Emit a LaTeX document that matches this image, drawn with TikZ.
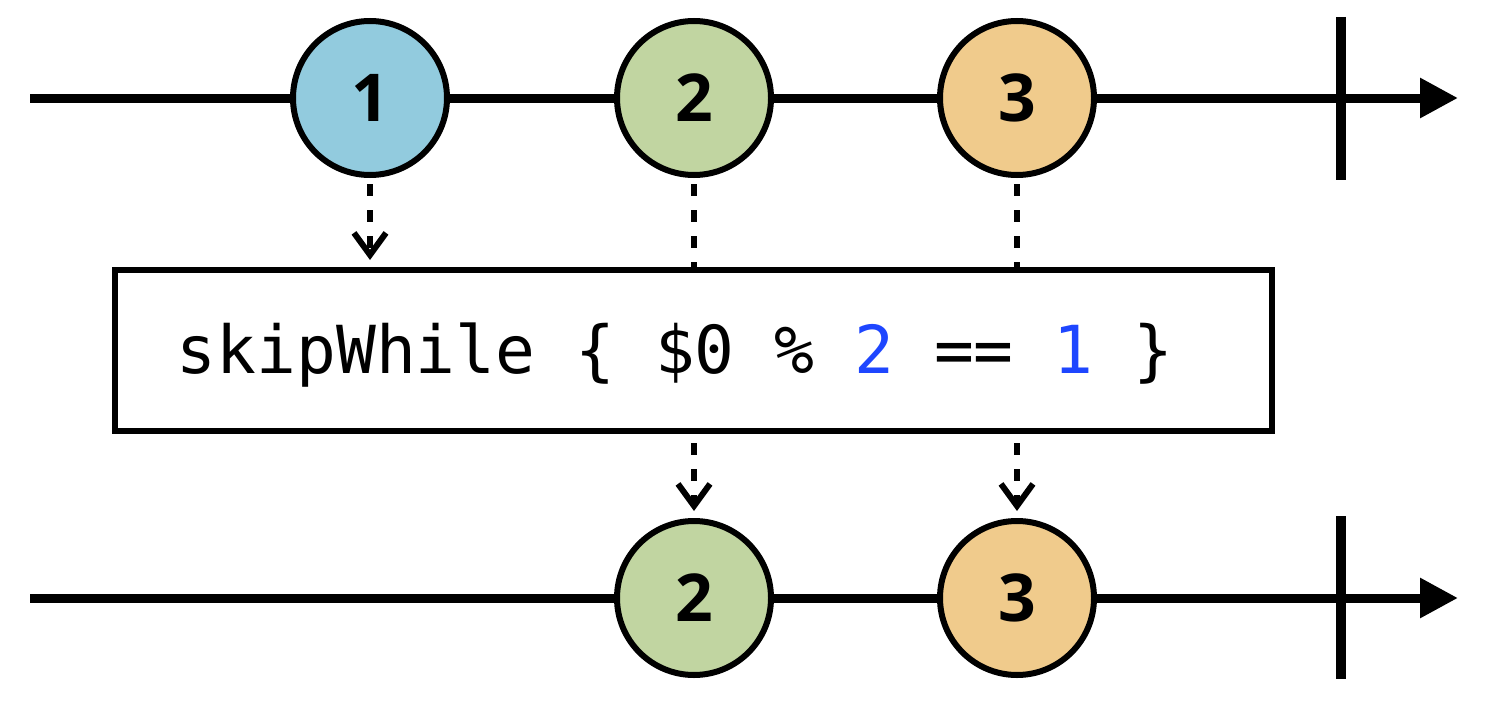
\documentclass[tikz,border=0pt]{standalone}
\usepackage{fontspec}
\newfontfamily\codefont{DejaVu Sans Mono}
\newfontfamily\digitfont{Open Sans}
\usetikzlibrary{arrows.meta}
\definecolor{mblue}{RGB}{146,203,222}
\definecolor{mgreen}{RGB}{193,213,161}
\definecolor{morange}{RGB}{240,203,140}
\definecolor{codeblue}{RGB}{30,70,255}
\begin{document}
\begin{tikzpicture}[x=1pt,y=-1pt,
  timeline/.style={line width=9pt, -{Triangle[length=38pt,width=38pt]}},
  endtick/.style={line width=10pt},
  marble/.style={circle, draw=black, line width=6pt, minimum size=154pt, inner sep=0pt,
    font=\digitfont\bfseries\fontsize{66}{70}\selectfont},
  opbox/.style={draw=black, fill=white, line width=6pt, minimum width=1157pt, minimum height=161pt, inner sep=0pt},
  codetext/.style={inner sep=0pt, font=\codefont\fontsize{66.2}{70}\selectfont},
  flow/.style={line width=5.5pt, dash pattern=on 12pt off 14pt},
  flowarrow/.style={flow, -{Straight Barb[length=22pt,width=32pt,line width=6pt]}},
]
\useasboundingbox (0,0) rectangle (1494,701);
% top timeline
\coordinate (s1) at (30,98);
\coordinate (e1) at (1458,98);
\draw[timeline] (s1) -- (e1);
\coordinate (t1a) at (1341,17);
\coordinate (t1b) at (1341,180);
\draw[endtick] (t1a) -- (t1b);
\node[marble, fill=mblue] (a1) at (370,98) {1};
\node[marble, fill=mgreen] (a2) at (694,98) {2};
\node[marble, fill=morange] (a3) at (1017,98) {3};
% operator box
\node[opbox] (box) at (693.5,350.5) {};
\node[codetext, anchor=base] (code) at (675,373)
  {skipWhile \{ \$0 \% \textcolor{codeblue}{2} == \textcolor{codeblue}{1} \}};
% bottom timeline
\coordinate (s2) at (30,598);
\coordinate (e2) at (1458,598);
\draw[timeline] (s2) -- (e2);
\coordinate (t2a) at (1341,516);
\coordinate (t2b) at (1341,679);
\draw[endtick] (t2a) -- (t2b);
\node[marble, fill=mgreen] (b2) at (694,598) {2};
\node[marble, fill=morange] (b3) at (1017,598) {3};
% flows
\draw[flowarrow, shorten <=6pt, shorten >=7pt] (a1.south) -- (a1.south |- box.north);
\draw[flow, shorten <=6pt] (a2.south) -- (a2.south |- box.north);
\draw[flow, shorten <=6pt] (a3.south) -- (a3.south |- box.north);
\draw[flowarrow, shorten <=9pt, shorten >=7pt] (b2.north |- box.south) -- (b2.north);
\draw[flowarrow, shorten <=9pt, shorten >=7pt] (b3.north |- box.south) -- (b3.north);
\end{tikzpicture}
\end{document}
